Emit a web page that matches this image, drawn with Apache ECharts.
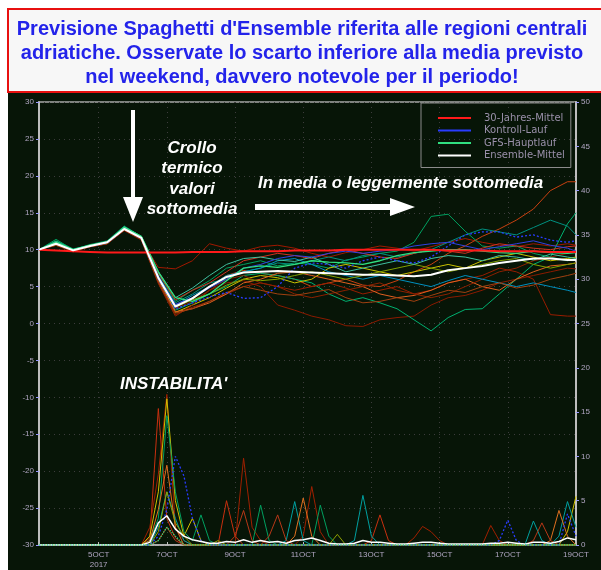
<!DOCTYPE html>
<html>
<head>
<meta charset="utf-8">
<script src="https://cdn.jsdelivr.net/npm/echarts@6/dist/echarts.min.js"></script>
<style>html,body{margin:0;padding:0;background:#fff}#c{width:601px;height:570px}</style>
</head>
<body>
<div id="c"></div>
<script>
// ---------- DATA ----------
const titleLines = ["Previsione Spaghetti d'Ensemble riferita alle regioni centrali",
  "adriatiche. Osservate lo scarto inferiore alla media previsto",
  "nel weekend, davvero notevole per il periodo!"];
const xLabelHours = [48, 96, 144, 192, 240, 288, 336, 384];
const xLabels = ['5OCT\n2017', '7OCT', '9OCT', '11OCT', '13OCT', '15OCT', '17OCT', '19OCT'];
const legendNames = ['30-Jahres-Mittel', 'Kontroll-Lauf', 'GFS-Hauptlauf', 'Ensemble-Mittel'];

// temperature (left axis, every 12 h)
const hours12 = [6,18,30,42,54,66,78,90,102,114,126,138,150,162,174,186,198,210,222,234,246,258,270,282,294,306,318,330,342,354,366,378,384];
const tM1  = [10,10.7,9.8,10.4,10.8,12.6,11.4, 7.6,7.4,8.5,10.8,10.2,9.8,10.4,10.6,10.2,9.5,9.0,9.6,10.0,10.5,10.2,9.8,10.4,11.0,11.5,11.0,10.6,10.4,10.8,10.5,10.8,10.6];
const tM2  = [10,10.9,9.9,10.5,11.0,12.9,11.6, 5.8,2.0,3.0,4.5,5.5,5.8,5.0,2.5,1.8,1.0,0.5,-0.3,-0.4,0.5,0.8,1.0,2.5,3.5,3.8,4.5,5.5,6.0,6.5,7.0,7.5,7.4];
const tM3  = [10,10.8,9.8,10.6,11.0,12.8,11.5, 6.2,2.5,3.5,5.0,6.5,7.2,6.8,6.5,6.0,5.0,5.5,6.0,5.2,5.0,5.8,7.0,8.0,9.5,10.5,11.8,12.8,14.0,15.5,18.0,19.2,19.2];
const tM4  = [10,11.4,10.0,10.7,11.2,13.2,11.8, 6.8,3.0,4.5,5.8,7.5,8.0,8.5,7.8,8.2,8.0,7.5,8.6,9.0,9.5,9.8,11.0,14.5,14.8,12.5,10.5,10.2,10.5,9.5,9.0,8.5,8.8];
const tM5  = [10,11.2,10.1,10.6,11.1,13.1,11.7, 6.0,1.8,2.8,4.0,5.0,6.5,6.8,6.5,6.0,5.5,4.0,3.0,3.5,2.8,2.0,0.5,-1.0,0.8,1.9,2.0,4.0,6.0,8.0,9.0,13.5,15.0];
const tM6  = [10,11.0,10.0,10.5,11.0,13.0,11.8, 6.5,2.8,4.0,5.5,6.0,7.0,7.5,8.2,8.0,8.5,9.0,8.5,9.2,9.5,9.0,9.5,10.0,11.0,12.0,12.8,12.4,12.0,13.0,14.0,13.2,12.0];
const tM7  = [10,10.6,9.7,10.4,10.9,12.7,11.4, 5.5,1.2,2.2,3.0,4.0,5.0,5.5,5.0,4.5,5.0,5.5,4.8,4.0,4.5,5.0,4.0,4.5,5.5,6.0,6.5,7.5,7.0,6.0,1.2,1.0,1.0];
const tM8  = [10,10.8,9.9,10.6,11.0,12.9,11.6, 6.2,1.5,2.5,3.5,4.8,6.0,6.5,6.2,5.5,6.0,7.5,8.0,7.5,7.0,6.5,7.0,7.5,8.0,7.5,8.5,9.0,9.5,9.0,8.5,8.8,9.0];
const tM9  = [10,10.7,9.8,10.5,10.9,12.7,11.5, 5.8,1.6,2.0,2.8,4.0,5.5,6.0,6.8,7.0,6.5,6.0,5.5,5.0,4.0,3.5,3.8,4.5,5.5,6.0,5.0,4.5,6.0,7.0,7.8,8.0,8.2];
const tM10 = [10,10.6,9.8,10.4,10.8,12.6,11.3, 5.4,1.0,2.5,4.5,6.0,6.5,5.5,5.0,4.0,3.5,4.0,4.5,5.0,5.5,4.5,4.0,3.5,4.0,5.0,6.0,7.0,7.5,8.5,9.0,9.5,9.8];
const tM11 = [10,10.9,10.0,10.6,11.0,13.0,11.7, 6.4,2.5,3.8,5.0,6.5,7.0,7.5,8.5,8.8,8.0,7.0,6.5,6.0,6.5,6.0,5.5,5.0,5.8,6.5,6.0,5.5,5.0,5.5,5.0,4.5,4.2];
const tM12 = [10,10.8,9.9,10.5,11.0,12.8,11.6, 6.8,3.2,4.5,5.5,7.0,8.5,9.0,9.5,9.2,8.8,9.5,10.0,9.5,9.0,8.8,9.5,10.0,9.8,9.5,10.2,10.8,10.5,10.2,10.0,10.4,10.5];
const tM13 = [10,10.7,9.9,10.5,10.9,12.8,11.5, 6.0,2.2,3.2,4.0,5.2,6.0,5.8,6.0,6.5,7.0,6.5,6.0,6.5,7.0,7.5,8.0,7.5,7.0,7.5,8.0,8.5,8.8,8.0,7.5,8.0,8.2];
const tM14 = [10,10.6,9.8,10.4,10.8,12.7,11.4, 5.6,1.4,2.0,3.0,4.2,5.0,4.5,4.0,3.8,4.2,4.6,3.5,2.8,3.0,3.5,3.0,3.8,4.5,4.2,5.0,5.5,4.8,5.2,6.0,6.5,6.8];
const tM15 = [10,11.1,10.0,10.6,11.1,13.1,11.8, 7.0,3.5,4.8,6.5,8.0,8.8,9.0,8.6,8.4,9.0,8.0,7.0,7.5,8.0,8.5,8.0,8.8,9.2,9.0,8.5,9.2,9.0,8.6,9.4,9.0,8.8];
const tM16 = [10,10.8,9.9,10.5,11.0,12.9,11.6, 6.4,2.6,3.5,4.8,6.0,7.5,8.0,8.8,9.2,9.0,9.5,9.8,9.5,9.8,10.0,10.5,10.8,11.0,10.5,10.0,10.4,10.8,11.2,10.6,10.2,9.8];
const tControl = [10,10.8,9.9,10.5,10.9,12.8,11.5, 6.0,2.0,2.8,3.6,4.2,3.4,3.5,5.0,7.5,8.2,8.0,7.5,8.5,9.0,8.5,8.2,9.0,10.5,12.0,12.4,12.4,11.7,12.0,11.3,11.0,11.2];
const tMain    = [10,11.0,10.0,10.6,11.0,13.0,11.8, 7.0,3.5,3.0,4.0,5.8,7.5,7.8,7.6,8.0,8.5,8.3,8.2,8.0,8.5,9.2,9.6,9.8,10.0,10.0,9.8,9.6,9.5,9.8,9.6,9.5,9.6];
const tMean    = [10,10.8,9.9,10.5,11.0,12.8,11.6, 6.2,2.3,3.4,5.0,6.3,6.9,7.0,7.1,7.0,6.9,6.8,6.7,6.6,6.6,6.5,6.4,6.6,7.2,7.5,7.8,8.2,8.5,8.8,8.8,8.6,8.6];
const tClim    = [10.0,9.9,9.8,9.7,9.6,9.6,9.6,9.6,9.6,9.7,9.7,9.7,9.8,9.8,9.8,9.9,9.9,9.9,10.0,10.0,10.0,10.0,10.0,10.0,9.9,9.9,9.9,9.8,9.8,9.8,9.7,9.7,9.7];

// precipitation (right axis, every 6 h)
const hours6 = [6,12,18,24,30,36,42,48,54,60,66,72,78,84,90,96,102,108,114,120,126,132,138,144,150,156,162,168,174,180,186,192,198,204,210,216,222,228,234,240,246,252,258,264,270,276,282,288,294,300,306,312,318,324,330,336,342,348,354,360,366,372,378,384];
const pM1 = [0,0,0,0,0,0,0,0, 0,0,0,0,0,0.8,15.4,3.0, 0.8,0,0,0,0,0,5.0,1.0, 0,0,0,0,0,0,0,0, 0,0,0,0,0,0,0,0.5, 3.4,0.5,0,0,0,0,0,0, 0,0,0,0,0,0,0,0, 0,0,0,0,0,0,0,0];
const pM2 = [0,0,0,0,0,0,0,0, 0,0,0,0,0,2.0,8.0,17.0, 2.0,0.5,0,0,0,0,0,0, 9.8,2.0,0.5,0,0,0,0,1.0, 6.6,1.5,0,0,0,0,0,0, 0,0,0,0,0.8,2.1,1.5,0.5, 0,0,0,0,0,2.2,0.5,0, 0,0,0,0,0,0,0,0];
const pM3 = [0,0,0,0,0,0,0,0, 0,0,0,0,0,1.0,6.0,16.5, 5.0,1.0,3.0,0.5,0,0,0,0, 0,0,0,0,0,0,0,0, 0,0,0,0,0,0,0,0, 0,0,0,0,0,0,0,0, 0,0,0,0,0,0,0,0, 0,0,0,0,0,0,1.5,5.5];
const pM4 = [0,0,0,0,0,0,0,0, 0,0,0,0,0,0.5,3.0,14.6, 6.0,1.5,0.5,3.4,0.5,0,0,0, 0,0,4.5,0.5,0,0,0,0, 0,4.5,1.0,0,0,0,0,0, 0,0,0,0,0,0,0,0, 0,0,0,0,0,0,0,0, 0,0,0,0,0,0,0,0];
const pM5 = [0,0,0,0,0,0,0,0, 0,0,0,0,0,0,2.0,6.0, 3.0,0.5,0,0,0,0,0,0, 0,0,0,0,0,0.5,4.9,0.5, 0,0,0,0,0,0.5,5.6,1.0, 0,0,0,0,0,0,0,0, 0,0,0,0,0,0,0,0, 0,0,2.7,0.5,0,1.0,4.9,2.0];
const pM6 = [0,0,0,0,0,0,0,0, 0,0,0,0,0,0.5,4.0,9.0, 2.0,0,0,0,0,0,0,0, 0,0,0,0,0,0,1.0,5.3, 1.0,0,0,0,0,0,0,0, 0,0,0,0,0,0,0,0, 0,0,0,0,0,0,0,0, 0,0,0,0,0.5,3.9,1.0,0];
const pM7 = [0,0,0,0,0,0,0,0, 0,0,0,0,0,0,0.5,2.0, 0.5,0,0,0,0,0,0,1.0, 3.9,0.5,0,1.0,3.4,0.5,0,0, 0,0,0,0,0,0,0,0, 0,0,0,0,0,0,0,0, 0,0,0,0,0,0,0,0, 0,0,0.5,2.5,0.5,0,0,0];
const pM8 = [0,0,0,0,0,0,0,0, 0,0,0,0,0,0,1.5,6.0, 2.5,1.0,0,0,0,0.5,0,0, 0,0,0,0,0,0,0,0, 0,0,0,1.2,0,0,0,0, 0,0,0,0,0,0,0,0, 0,0,0,0,0,0,0,0, 0,0,0,0,0,0,0,0];
const pControl = [0,0,0,0,0,0,0,0, 0,0,0,0,0,0,1.0,4.0, 10.0,7.8,3.0,0.5,0,0,0,0, 0,0,0,0,0,0,0,0, 0,0,0,0,0,0,0,0, 0,0,0,0,0,0,0,0, 0,0,0,0,0,0,0.5,2.8, 0.5,0,0,0,0,0,3.5,1.0];
const pMain = [0,0,0,0,0,0,0,0, 0,0,0,0,0,0,0.5,2.0, 1.0,0,0,0,0,0,0,0, 0,0,0,0,0,0,0,0, 0,0,0,0,0,0,0,0, 0,0,0,0,0,0,0,0, 0,0,0,0,0,0,0,0, 0,0,0,0,0,0,0,0];
const pMean = [0,0,0,0,0,0,0,0, 0,0,0,0,0,0.3,2.5,3.3, 1.8,1.0,0.6,0.4,0.2,0.2,0.4,0.3, 0.6,0.3,0.5,0.3,0.4,0.2,0.5,0.6, 0.8,0.5,0.2,0.1,0.1,0.2,0.5,0.3, 0.3,0.2,0.1,0.1,0.2,0.3,0.3,0.2, 0.1,0.1,0.1,0.1,0.1,0.2,0.2,0.3, 0.2,0.1,0.3,0.3,0.2,0.4,0.8,0.6];

// ---------- STYLE ----------
const tempMembers = [tM1,tM2,tM3,tM4,tM5,tM6,tM7,tM8,tM9,tM10,tM11,tM12,tM13,tM14,tM15,tM16];
const tempColors = ['#a01800','#8a1a00','#c84010','#00a060','#00b070','#009080','#981c00','#c8c000','#e06020','#8c2000','#0090c0','#d03020','#80a000','#a04010','#40c0a0','#3040e0'];
const precMembers = [pM1,pM2,pM3,pM4,pM5,pM6,pM7,pM8];
const precColors = ['#c83010','#a02000','#d0c000','#00a060','#00a0a0','#e07020','#b83818','#90a000'];
const C_CLIM = '#ff1a1a', C_CTRL = '#2a3cff', C_MAIN = '#30e080', C_MEAN = '#ffffff';

function pairs(xs, ys) { return xs.map((x, i) => [x, ys[i]]); }
function line(name, xs, ys, color, width, yAxis, z, type) {
  return { name, type: 'line', data: pairs(xs, ys), yAxisIndex: yAxis, symbol: 'none', z: z,
    color: color, itemStyle: { color: color },
    lineStyle: { color: color, width: width, type: type || 'solid' }, silent: true };
}

const series = [];
tempMembers.forEach((d, i) => series.push(line('T' + (i + 1), hours12, d, tempColors[i], 1, 0, 2)));
precMembers.forEach((d, i) => series.push(line('P' + (i + 1), hours6, d, precColors[i], 1, 1, 2)));
series.push(line('Kontroll-Lauf', hours12, tControl, C_CTRL, 1.3, 0, 3, [2, 2]));
series.push(line('Kontroll-Lauf', hours6, pControl, C_CTRL, 1.3, 1, 3, [2, 2]));
series.push(line('GFS-Hauptlauf', hours12, tMain, C_MAIN, 1.3, 0, 3));
series.push(line('30-Jahres-Mittel', hours12, tClim, C_CLIM, 2, 0, 4));
series.push(line('Ensemble-Mittel', hours12, tMean, C_MEAN, 2, 0, 5));
series.push(line('Ensemble-Mittel', hours6, pMean, C_MEAN, 1.5, 1, 5));
series.push(line('GFS-Hauptlauf', hours6, pMain, C_MAIN, 1.3, 1, 6, 'dotted'));

const labelColor = '#b0a6c2';
const FONT = '"Liberation Sans", Arial, sans-serif';
const annot = 'italic bold 17px ' + FONT;

const chart = echarts.init(document.getElementById('c'), null, { renderer: 'canvas' });
chart.setOption({
  animation: false,
  backgroundColor: '#ffffff',
  grid: { left: 39, right: 25, top: 102, bottom: 23, show: true, borderColor: '#a8a8a8', borderWidth: 1.5 },
  legend: {
    data: legendNames, orient: 'vertical', left: 421, top: 103, icon: 'rect',
    itemWidth: 33, itemHeight: 2, itemGap: 2.5, padding: [10, 6, 7, 17],
    borderColor: '#8c8c8c', borderWidth: 1, selectedMode: false,
    textStyle: { color: '#9a90aa', fontSize: 10, lineHeight: 10, fontFamily: '"DejaVu Sans", sans-serif', padding: [0, 0, 0, 8] }
  },
  xAxis: {
    type: 'value', min: 6, max: 384,
    axisLine: { show: true, onZero: false, lineStyle: { color: '#bdbdbd', width: 1.5 } },
    axisTick: { show: true, customValues: xLabelHours, length: 3, inside: true, lineStyle: { color: '#bdbdbd' } },
    axisLabel: { customValues: xLabelHours, color: labelColor, fontSize: 8, fontFamily: FONT, margin: 5, lineHeight: 10,
      formatter: v => xLabels[xLabelHours.indexOf(v)] || '' },
    splitLine: { show: true, lineStyle: { color: '#3c3c3c', type: [1, 4], width: 1 } }
  },
  yAxis: [
    { type: 'value', min: -30, max: 30, interval: 5, position: 'left',
      axisLine: { show: true, lineStyle: { color: '#bdbdbd', width: 2 } },
      axisTick: { show: true, length: 3, lineStyle: { color: '#9a9aff' } },
      axisLabel: { color: labelColor, fontSize: 8, fontFamily: FONT, margin: 5 },
      splitLine: { show: true, lineStyle: { color: '#3c3c3c', type: [1, 4], width: 1 } } },
    { type: 'value', min: 0, max: 50, interval: 5, position: 'right',
      axisLine: { show: true, lineStyle: { color: '#bdbdbd', width: 2 } },
      axisTick: { show: true, length: 3, lineStyle: { color: '#9a9aff' } },
      axisLabel: { color: labelColor, fontSize: 8, fontFamily: FONT, margin: 5 },
      splitLine: { show: false } }
  ],
  graphic: [
    { type: 'rect', z: -100, shape: { x: 8, y: 93, width: 593, height: 477 }, style: { fill: '#071507' } },
    { type: 'rect', z: 10, shape: { x: 8, y: 9, width: 600, height: 83 }, style: { fill: '#f7f7f7', stroke: '#e81010', lineWidth: 2 } },
    ...titleLines.map((t, i) => ({ type: 'text', z: 11, x: 302, y: 29 + i * 24,
      style: { text: t, fill: '#2323ea', font: 'bold 20px ' + FONT, textAlign: 'center', textVerticalAlign: 'middle' } })),
    { type: 'polygon', z: 20, shape: { points: [[131,110],[135,110],[135,197],[143,197],[133,222],[123,197],[131,197]] }, style: { fill: '#ffffff' } },
    { type: 'polygon', z: 20, shape: { points: [[255,204],[390,204],[390,198],[415,207],[390,216],[390,210],[255,210]] }, style: { fill: '#ffffff' } },
    ...['Crollo', 'termico', 'valori', 'sottomedia'].map((t, i) => ({ type: 'text', z: 20, x: 192, y: 148 + i * 20.5,
      style: { text: t, fill: '#ffffff', font: annot, textAlign: 'center', textVerticalAlign: 'middle' } })),
    { type: 'text', z: 20, x: 258, y: 183, style: { text: 'In media o leggermente sottomedia', fill: '#ffffff', font: annot, textAlign: 'left', textVerticalAlign: 'middle' } },
    { type: 'text', z: 20, x: 120, y: 384, style: { text: "INSTABILITA'", fill: '#ffffff', font: annot, textAlign: 'left', textVerticalAlign: 'middle' } }
  ],
  series: series
});
</script>
</body>
</html>
